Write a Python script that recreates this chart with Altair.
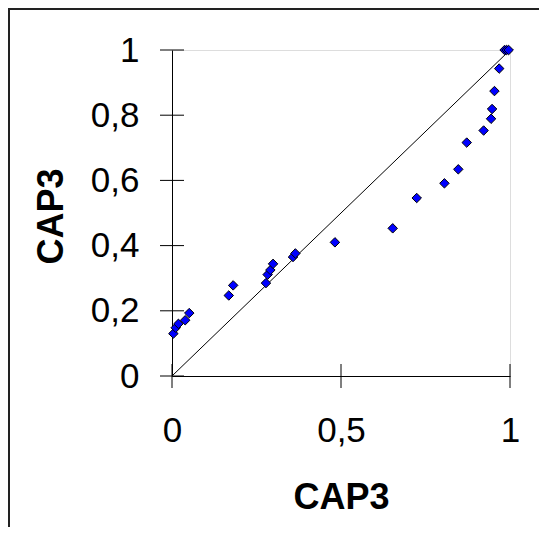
import altair as alt
import pandas as pd

# Scatter values
x_vals = [0.004, 0.011, 0.019, 0.039, 0.051, 0.168, 0.181, 0.278, 0.283, 0.291,
          0.299, 0.358, 0.365, 0.482, 0.653, 0.724, 0.806, 0.847, 0.872, 0.922,
          0.944, 0.947, 0.954, 0.968, 0.984, 0.990, 0.996]
y_vals = [0.130, 0.148, 0.160, 0.171, 0.193, 0.247, 0.278, 0.285, 0.311, 0.325,
          0.344, 0.365, 0.376, 0.410, 0.453, 0.546, 0.591, 0.634, 0.716, 0.753,
          0.789, 0.819, 0.874, 0.943, 1.000, 1.000, 1.000]

diag_x = [0, 1]
diag_y = [0, 1]

y_ticks = [0, 0.2, 0.4, 0.6, 0.8, 1]
x_ticks = [0, 0.5, 1]

W, H = 338, 326
PAD_L, PAD_T, PAD_R, PAD_B = 164, 42, 29, 151
FONT = "Liberation Sans"
LABEL_EXPR = "replace(toString(datum.value), '.', ',')"

pts = pd.DataFrame({"x": x_vals, "y": y_vals})
diag = pd.DataFrame({"x": diag_x, "y": diag_y})
yt = pd.DataFrame({"v": y_ticks})
xt = pd.DataFrame({"v": x_ticks})

xs = alt.Scale(domain=[0, 1], nice=False, zero=False)
ys = alt.Scale(domain=[0, 1], nice=False, zero=False)

x_axis = alt.Axis(values=x_ticks, ticks=False, tickSize=0, grid=False,
                  domainColor="black", domainWidth=1,
                  labelFontSize=35, labelFont=FONT, labelColor="black",
                  labelPadding=37, labelFlush=False, labelOverlap=False,
                  labelExpr=LABEL_EXPR,
                  title="CAP3", titleFont=FONT, titleFontSize=36,
                  titleFontWeight="bold", titleColor="black",
                  titleBaseline="alphabetic", titleY=132, titleX=W / 2)
y_axis = alt.Axis(values=y_ticks, ticks=False, tickSize=0, grid=False,
                  domainColor="black", domainWidth=1,
                  labelFontSize=35, labelFont=FONT, labelColor="black",
                  labelPadding=33, labelFlush=False, labelOverlap=False,
                  labelExpr=LABEL_EXPR,
                  title="CAP3", titleFont=FONT, titleFontSize=36,
                  titleFontWeight="bold", titleColor="black",
                  titleAngle=-90, titleAlign="center",
                  titleBaseline="alphabetic", titleX=-110, titleY=166)

line = alt.Chart(diag).mark_line(color="black", strokeWidth=1, clip=False).encode(
    x=alt.X("x:Q", scale=xs, axis=x_axis),
    y=alt.Y("y:Q", scale=ys, axis=y_axis),
)

ytick_rules = alt.Chart(yt).mark_rule(color="black", strokeWidth=1).encode(
    y=alt.Y("v:Q", scale=ys),
    x=alt.value(-12), x2=alt.value(12),
)
xtick_rules = alt.Chart(xt).mark_rule(color="black", strokeWidth=1).encode(
    x=alt.X("v:Q", scale=xs),
    y=alt.value(H - 12), y2=alt.value(H + 12),
)

points = alt.Chart(pts).mark_point(shape="diamond", filled=True, size=90,
                                   color="#0000ff", stroke="black",
                                   strokeWidth=1, opacity=1, clip=False).encode(
    x=alt.X("x:Q", scale=xs),
    y=alt.Y("y:Q", scale=ys),
)

# Outer frame (top and left edges visible in the reference)
frame_top = alt.Chart(pts).mark_rule(color="#222222", strokeWidth=2).encode(
    x=alt.value(-PAD_L), x2=alt.value(W + PAD_R), y=alt.value(-PAD_T + 1))
frame_left = alt.Chart(pts).mark_rule(color="#222222", strokeWidth=2).encode(
    x=alt.value(-PAD_L + 1), y=alt.value(-PAD_T), y2=alt.value(H + PAD_B))

chart = alt.layer(line, ytick_rules, xtick_rules, points, frame_top, frame_left).properties(
    width=W, height=H,
    autosize=alt.AutoSizeParams(type="none"),
    padding={"left": PAD_L, "top": PAD_T, "right": PAD_R, "bottom": PAD_B},
).configure_view(stroke=None).configure(background="white")

chart.save("out.html", embed_options={"renderer": "svg", "actions": False})
